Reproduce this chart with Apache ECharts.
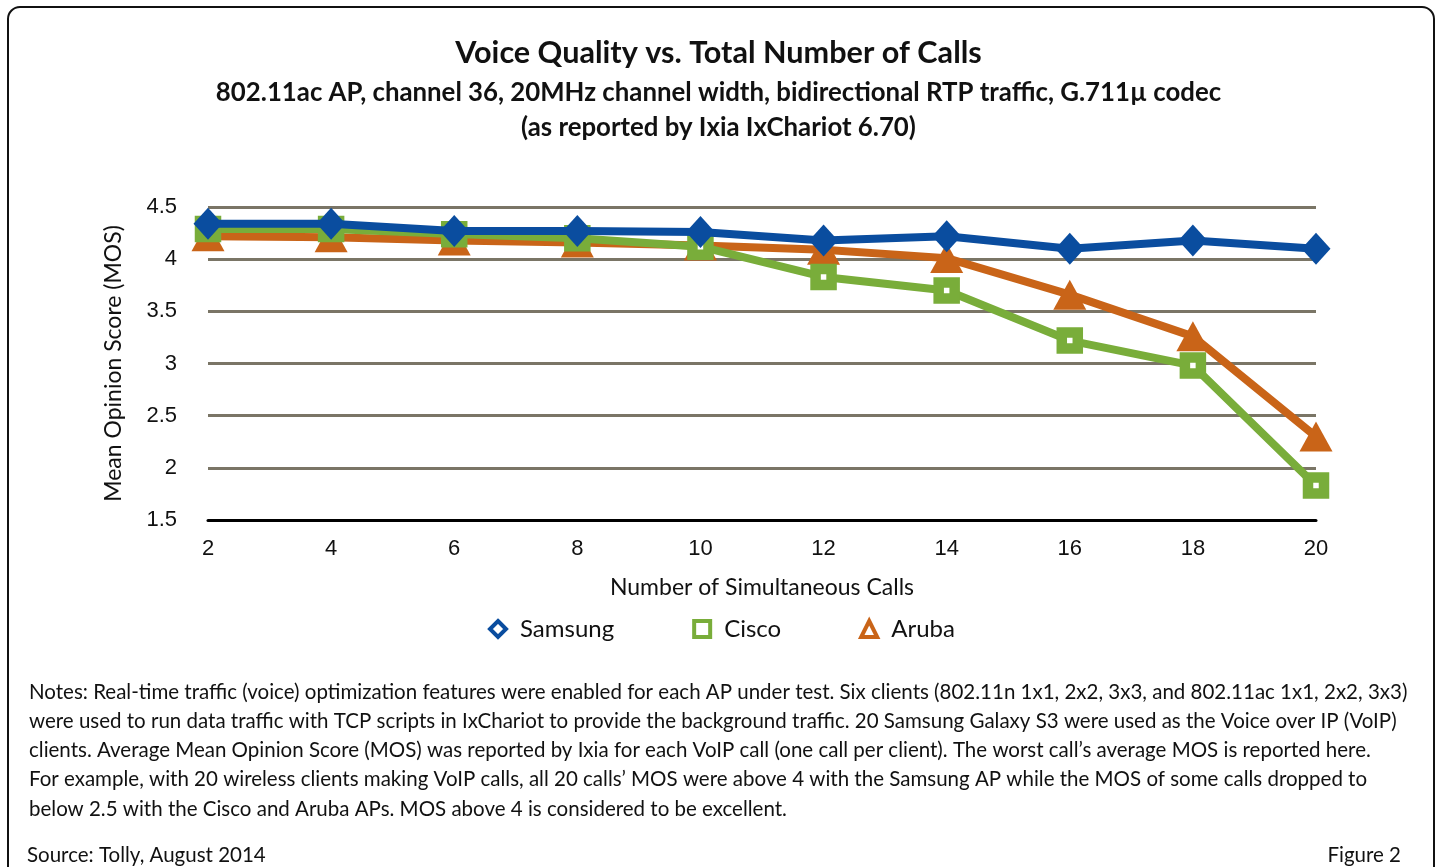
<!DOCTYPE html>
<html><head><meta charset="utf-8">
<script src="https://cdn.jsdelivr.net/npm/echarts@6/dist/echarts.min.js"></script>
<style>html,body{margin:0;padding:0;background:#fff}#c{width:1437px;height:867px}</style>
</head><body><div id="c"></div>
<script>
const calls = [2, 4, 6, 8, 10, 12, 14, 16, 18, 20];
const samsung = [4.34, 4.34, 4.27, 4.27, 4.26, 4.18, 4.22, 4.10, 4.18, 4.10];
const cisco = [4.29, 4.29, 4.24, 4.20, 4.12, 3.83, 3.70, 3.22, 2.98, 1.83];
const aruba = [4.22, 4.21, 4.18, 4.16, 4.13, 4.09, 4.01, 3.66, 3.26, 2.30];
const yTicks = [1.5, 2, 2.5, 3, 3.5, 4, 4.5];
const titleText = 'Voice Quality vs. Total Number of Calls';
const subtitle1 = '802.11ac AP, channel 36, 20MHz channel width, bidirectional RTP traffic, G.711\u00b5 codec';
const subtitle2 = '(as reported by Ixia IxChariot 6.70)';
const notes = [
 'Notes: Real-time traffic (voice) optimization features were enabled for each AP under test. Six clients (802.11n 1x1, 2x2, 3x3, and 802.11ac 1x1, 2x2, 3x3)',
 'were used to run data traffic with TCP scripts in IxChariot to provide the background traffic. 20 Samsung Galaxy S3 were used as the Voice over IP (VoIP)',
 'clients. Average Mean Opinion Score (MOS) was reported by Ixia for each VoIP call (one call per client). The worst call\u2019s average MOS is reported here.',
 'For example, with 20 wireless clients making VoIP calls, all 20 calls\u2019 MOS were above 4 with the Samsung AP while the MOS of some calls dropped to',
 'below 2.5 with the Cisco and Aruba APs. MOS above 4 is considered to be excellent.'
];
const source = 'Source: Tolly, August 2014';
const figure = 'Figure 2';

const F = 'Lato, "Noto Sans", sans-serif';
const chart = echarts.init(document.getElementById('c'));
const pair = a => a.map((v, i) => [calls[i], v]);
const blue = '#0A4D9F', green = '#79AD3A', orange = '#C96418';

const graphics = [
  {type:'rect', shape:{x:8, y:7, width:1426, height:880, r:12}, style:{fill:'none', stroke:'#111', lineWidth:2}, silent:true}
];
notes.forEach((t, i) => graphics.push({type:'text', x:29, y:692 + i * 29.25,
  style:{text:t, font:'20.5px '+F, fill:'#111', textVerticalAlign:'middle'}}));
graphics.push({type:'text', x:27, y:855, style:{text: source, font:'20.5px '+F, fill:'#111', textVerticalAlign:'middle'}});
graphics.push({type:'text', x:1401, y:855, style:{text: figure, font:'20.5px '+F, fill:'#111', textAlign:'right', textVerticalAlign:'middle'}});

chart.setOption({
  animation:false,
  title:[
    {text:titleText, left:'center', top:33, textStyle:{fontFamily:F, fontWeight:'bold', fontSize:30.6, color:'#111'}},
    {text:subtitle1, left:'center', top:75, textStyle:{fontFamily:F, fontWeight:'bold', fontSize:25.8, color:'#111'}},
    {text:subtitle2, left:'center', top:110, textStyle:{fontFamily:F, fontWeight:'bold', fontSize:25.8, color:'#111'}}
  ],
  grid:{left:208, right:121, top:207, bottom:347, containLabel:false},
  legend:{
    data:[
      {name:'Samsung', icon:'diamond', itemStyle:{color:'#fff', borderColor:blue, borderWidth:4}},
      {name:'Cisco', icon:'rect', itemStyle:{color:'#fff', borderColor:green, borderWidth:4}},
      {name:'Aruba', icon:'triangle', itemStyle:{color:'#fff', borderColor:orange, borderWidth:4}}
    ],
    left:483, top:612, itemWidth:16, itemHeight:16, itemGap:78,
    textStyle:{fontFamily:F, fontSize:24, color:'#111', padding:[0,0,0,9]}
  },
  xAxis:{
    type:'value', min:2, max:20, interval:2,
    name:'Number of Simultaneous Calls', nameLocation:'middle', nameGap:56,
    nameTextStyle:{fontFamily:F, fontSize:23, color:'#111'},
    axisLine:{show:true, lineStyle:{color:'#000', width:3}},
    axisTick:{show:false}, splitLine:{show:false},
    axisLabel:{fontFamily:'"Liberation Sans", Arial, sans-serif', fontSize:22, color:'#111', margin:18}
  },
  yAxis:{
    type:'value', min:1.5, max:4.5, interval:0.5,
    name:'Mean Opinion Score (MOS)', nameLocation:'middle', nameGap:83, nameRotate:90,
    nameTextStyle:{fontFamily:F, fontSize:23, color:'#111'},
    axisLine:{show:false}, axisTick:{show:false},
    axisLabel:{fontFamily:'"Liberation Sans", Arial, sans-serif', fontSize:22, color:'#111', margin:31, padding:[5,0,0,0],
      formatter: v => { const t = yTicks.find(x => Math.abs(x - v) < 1e-6); return t === undefined ? '' : String(t); }},
    splitLine:{show:true, lineStyle:{color:'#7A7566', width:3}}
  },
  series:[
    {name:'Aruba', type:'line', data:pair(aruba), z:2, symbol:'triangle', symbolSize:[33,30],
      lineStyle:{color:orange, width:8}, itemStyle:{color:orange}},
    {name:'Cisco', type:'line', data:pair(cisco), z:3, symbol:'rect', symbolSize:16,
      lineStyle:{color:green, width:8}, itemStyle:{color:'#fff', borderColor:green, borderWidth:10.5}},
    {name:'Samsung', type:'line', data:pair(samsung), z:4, symbol:'diamond', symbolSize:[29,32],
      lineStyle:{color:blue, width:8}, itemStyle:{color:blue}}
  ],
  graphic: graphics
});
</script></body></html>
